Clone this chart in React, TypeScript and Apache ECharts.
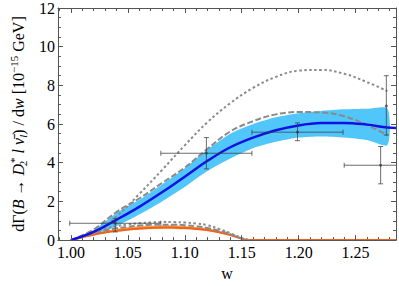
import React, { useEffect, useRef } from 'react';
import * as echarts from 'echarts';

// ---- axis ticks ----
const xMajorTicks = [1.0, 1.05, 1.1, 1.15, 1.2, 1.25];
const xMinorTicks = [0.99, 1.01, 1.02, 1.03, 1.04, 1.06, 1.07, 1.08, 1.09, 1.11, 1.12, 1.13, 1.14, 1.16, 1.17, 1.18, 1.19, 1.21, 1.22, 1.23, 1.24, 1.26, 1.27, 1.28];
const X_MIN = 0.9886;
const X_MAX = 1.2855;

// ---- upper group (blue band, curves) ----
const wUpper = [1.0, 1.02, 1.04, 1.06, 1.08, 1.1, 1.12, 1.14, 1.16, 1.18, 1.2, 1.22, 1.24, 1.26, 1.278];
const bandLower = [0, 0.3, 0.72, 1.32, 2.0, 2.75, 3.57, 4.22, 4.75, 5.08, 5.3, 5.36, 5.3, 5.17, 4.92];
const bandUpper = [0, 0.52, 1.4, 2.08, 2.88, 3.72, 4.68, 5.5, 6.0, 6.35, 6.56, 6.68, 6.76, 6.79, 6.8];
const dashedUpper = [0, 0.55, 1.45, 2.15, 2.95, 3.75, 4.72, 5.62, 6.15, 6.5, 6.62, 6.6, 6.4, 5.95, 5.43];
const dottedUpper = [0, 0.38, 1.22, 2.38, 3.62, 4.9, 6.1, 7.08, 7.87, 8.44, 8.76, 8.8, 8.6, 8.17, 7.7];
const wBlue = [1.0, 1.02, 1.04, 1.06, 1.08, 1.1, 1.12, 1.14, 1.16, 1.18, 1.2, 1.22, 1.24, 1.26, 1.278, 1.2855];
const blueCentral = [0, 0.42, 1.05, 1.72, 2.47, 3.28, 4.1, 4.8, 5.3, 5.68, 5.93, 6.05, 6.06, 5.97, 5.82, 5.79];

// ---- lower group (orange band, curves) ----
const wLower = [1.0, 1.01, 1.02, 1.03, 1.04, 1.05, 1.06, 1.07, 1.08, 1.09, 1.1, 1.11, 1.12, 1.13, 1.14, 1.15, 1.156];
const orangeLine = [0, 0.14, 0.28, 0.39, 0.48, 0.55, 0.6, 0.63, 0.645, 0.645, 0.62, 0.58, 0.52, 0.41, 0.26, 0.07, 0];
const orangeLower = [0, 0.12, 0.25, 0.35, 0.43, 0.5, 0.54, 0.57, 0.58, 0.58, 0.56, 0.52, 0.46, 0.37, 0.23, 0.06, 0];
const orangeUpper = [0, 0.17, 0.34, 0.47, 0.58, 0.66, 0.71, 0.74, 0.76, 0.76, 0.73, 0.68, 0.61, 0.48, 0.3, 0.09, 0];
const dashedLower = [0, 0.18, 0.36, 0.5, 0.61, 0.69, 0.75, 0.79, 0.8, 0.8, 0.77, 0.72, 0.63, 0.49, 0.31, 0.09, 0];
const dottedLower = [0, 0.21, 0.42, 0.59, 0.72, 0.81, 0.87, 0.91, 0.93, 0.93, 0.91, 0.86, 0.77, 0.58, 0.36, 0.11, 0];
const orangeTailW = [1.156, 1.2855];
const orangeTailY = [0, 0];

// ---- data points with error bars ----
const errX = [1.039, 1.119, 1.199, 1.272, 1.277];
const errY = [0.87, 4.49, 5.58, 3.87, 6.93];
const errXLo = [0.999, 1.079, 1.159, 1.24, 1.277];
const errXHi = [1.079, 1.159, 1.239, 1.304, 1.277];
const errYLo = [0.42, 3.68, 5.14, 2.91, 5.43];
const errYHi = [1.12, 5.3, 6.06, 4.84, 8.5];

const FONT = 'Liberation Serif';
const FRAME = '#555555';
const CYAN = '#50C6FA';
const BLUE = '#1010E6';
const GRAY = '#8A8A8A';
const ORANGE_LIGHT = '#FFA23A';
const ORANGE_DARK = '#F0601E';
const ERR = 'rgba(60,60,60,0.75)';

const zip = (xs: number[], ys: number[]) => xs.map((x, i) => [x, ys[i]]);

// band drawn as a polygon through the library's coordinate transform
const bandSeries = (xs: number[], lo: number[], hi: number[], color: string) => ({
  type: 'custom',
  clip: true,
  silent: true,
  data: [[xs[0], lo[0]]],
  renderItem: (_params: any, api: any) => {
    const top = xs.map((x, i) => api.coord([x, hi[i]]));
    const bottom = xs.map((x, i) => api.coord([x, lo[i]])).reverse();
    return {
      type: 'polygon',
      shape: { points: top.concat(bottom), smooth: 0.25 },
      style: { fill: color, stroke: null },
    };
  },
  z: 1,
});

export default function App() {
  const ref = useRef<HTMLDivElement>(null);
  useEffect(() => {
    if (!ref.current) return;
    const chart = echarts.init(ref.current, undefined, { renderer: 'svg' });
    const tickStyle = { color: FRAME, width: 1 };
    const xCommon = {
      type: 'value' as const,
      min: X_MIN,
      max: X_MAX,
      splitLine: { show: false },
    };
    const yCommon = {
      type: 'value' as const,
      min: 0,
      max: 12,
      interval: 2,
      splitLine: { show: false },
      minorTick: { show: true, splitNumber: 4, length: 3, lineStyle: tickStyle },
      minorSplitLine: { show: false },
    };
    const option: any = {
      animation: false,
      backgroundColor: '#ffffff',
      grid: { left: 44, right: 3, top: 8, bottom: 43, containLabel: false },
      xAxis: [
        {
          ...xCommon,
          position: 'bottom',
          z: 10,
          axisLine: { show: true, lineStyle: { color: FRAME, width: 1 } },
          axisTick: { show: true, inside: true, length: 5, customValues: xMajorTicks, lineStyle: tickStyle },
          axisLabel: {
            show: true,
            customValues: xMajorTicks,
            formatter: (v: number) => v.toFixed(2),
            fontFamily: FONT,
            fontSize: 16,
            color: '#000',
            margin: 4,
          },
          name: 'w',
          nameLocation: 'middle',
          nameGap: 22,
          nameTextStyle: { fontFamily: FONT, fontSize: 16, color: '#000' },
        },
        {
          ...xCommon,
          position: 'bottom',
          axisLine: { show: false },
          axisTick: { show: true, inside: true, length: 3, customValues: xMinorTicks, lineStyle: tickStyle },
          axisLabel: { show: false },
        },
        {
          ...xCommon,
          position: 'top',
          z: 10,
          axisLine: { show: true, lineStyle: { color: FRAME, width: 1 } },
          axisTick: { show: true, inside: true, length: 5, customValues: xMajorTicks, lineStyle: tickStyle },
          axisLabel: { show: false },
        },
        {
          ...xCommon,
          position: 'top',
          axisLine: { show: false },
          axisTick: { show: true, inside: true, length: 3, customValues: xMinorTicks, lineStyle: tickStyle },
          axisLabel: { show: false },
        },
      ],
      yAxis: [
        {
          ...yCommon,
          position: 'left',
          z: 10,
          axisLine: { show: true, lineStyle: { color: FRAME, width: 1 } },
          axisTick: { show: true, inside: true, length: 5, lineStyle: tickStyle },
          axisLabel: { fontFamily: FONT, fontSize: 16, color: '#000', margin: 3 },
          name:
            '{n|dΓ(}{i|B}{n| → }{i|D}{sub|2}{sup|*}{n| }{i|l}{n| }{i|ν̄}{subi|l}{n|) / d}{i|w}{n| [10}{sup|−15}{n| GeV]}',
          nameLocation: 'middle',
          nameGap: 17,
          nameTextStyle: {
            fontFamily: FONT,
            fontSize: 16,
            color: '#000',
            rich: {
              n: { fontFamily: FONT, fontSize: 16, color: '#000', lineHeight: 20 },
              i: { fontFamily: FONT, fontSize: 16, fontStyle: 'italic', color: '#000', lineHeight: 20 },
              sub: { fontFamily: FONT, fontSize: 11, color: '#000', lineHeight: 12, verticalAlign: 'bottom', width: 1 },
              subi: { fontFamily: FONT, fontSize: 11, fontStyle: 'italic', color: '#000', lineHeight: 12, verticalAlign: 'bottom' },
              sup: { fontFamily: FONT, fontSize: 11, color: '#000', lineHeight: 10, verticalAlign: 'top' },
            },
          },
        },
        {
          ...yCommon,
          position: 'right',
          z: 10,
          axisLine: { show: true, lineStyle: { color: FRAME, width: 1 } },
          axisTick: { show: true, inside: true, length: 5, lineStyle: tickStyle },
          axisLabel: { show: false },
        },
      ],
      series: [
        bandSeries(wUpper, bandLower, bandUpper, CYAN),
        bandSeries(wLower, orangeLower, orangeUpper, ORANGE_LIGHT),
        {
          type: 'line',
          data: zip(wLower, orangeLine),
          smooth: 0.4,
          symbol: 'none',
          lineStyle: { color: ORANGE_DARK, width: 2 },
        },
        {
          type: 'line',
          data: zip(orangeTailW, orangeTailY),
          symbol: 'none',
          lineStyle: { color: ORANGE_DARK, width: 2 },
        },
        {
          type: 'line',
          data: zip(wUpper, dashedUpper),
          smooth: 0.4,
          symbol: 'none',
          lineStyle: { color: GRAY, width: 2, type: [6, 2.5] },
        },
        {
          type: 'line',
          data: zip(wUpper, dottedUpper),
          smooth: 0.4,
          symbol: 'none',
          lineStyle: { color: GRAY, width: 2, type: [2.5, 2.5] },
        },
        {
          type: 'line',
          data: zip(wLower, dashedLower),
          smooth: 0.4,
          symbol: 'none',
          lineStyle: { color: GRAY, width: 2, type: [6, 2.5] },
        },
        {
          type: 'line',
          data: zip(wLower, dottedLower),
          smooth: 0.4,
          symbol: 'none',
          lineStyle: { color: GRAY, width: 2, type: [2.5, 2.5] },
        },
        {
          type: 'line',
          data: zip(wBlue, blueCentral),
          smooth: 0.4,
          symbol: 'none',
          lineStyle: { color: BLUE, width: 2.5 },
        },
        {
          type: 'custom',
          clip: true,
          data: errX.map((x, i) => [x, errY[i], errXLo[i], errXHi[i], errYLo[i], errYHi[i]]),
          encode: { x: [0, 2, 3], y: [1, 4, 5] },
          renderItem: (_params: any, api: any) => {
            const x = api.value(0);
            const y = api.value(1);
            const p = api.coord([x, y]);
            const pxl = api.coord([api.value(2), y]);
            const pxh = api.coord([api.value(3), y]);
            const pyl = api.coord([x, api.value(4)]);
            const pyh = api.coord([x, api.value(5)]);
            const cap = 2.5;
            const style = { stroke: ERR, lineWidth: 1, fill: null };
            const children: any[] = [];
            if (pxh[0] - pxl[0] > 1) {
              children.push({ type: 'line', shape: { x1: pxl[0], y1: p[1], x2: pxh[0], y2: p[1] }, style });
              children.push({ type: 'line', shape: { x1: pxl[0], y1: p[1] - cap, x2: pxl[0], y2: p[1] + cap }, style });
              children.push({ type: 'line', shape: { x1: pxh[0], y1: p[1] - cap, x2: pxh[0], y2: p[1] + cap }, style });
            }
            children.push({ type: 'line', shape: { x1: p[0], y1: pyl[1], x2: p[0], y2: pyh[1] }, style });
            children.push({ type: 'line', shape: { x1: p[0] - cap, y1: pyl[1], x2: p[0] + cap, y2: pyl[1] }, style });
            children.push({ type: 'line', shape: { x1: p[0] - cap, y1: pyh[1], x2: p[0] + cap, y2: pyh[1] }, style });
            children.push({ type: 'circle', shape: { cx: p[0], cy: p[1], r: 1.5 }, style: { fill: ERR } });
            return { type: 'group', children };
          },
          z: 5,
        },
      ],
    };
    chart.setOption(option);
    return () => chart.dispose();
  }, []);
  return (
    <div
      ref={ref}
      style={{ position: 'fixed', left: 0, top: 0, width: 399, height: 286, background: '#fff' }}
    />
  );
}
